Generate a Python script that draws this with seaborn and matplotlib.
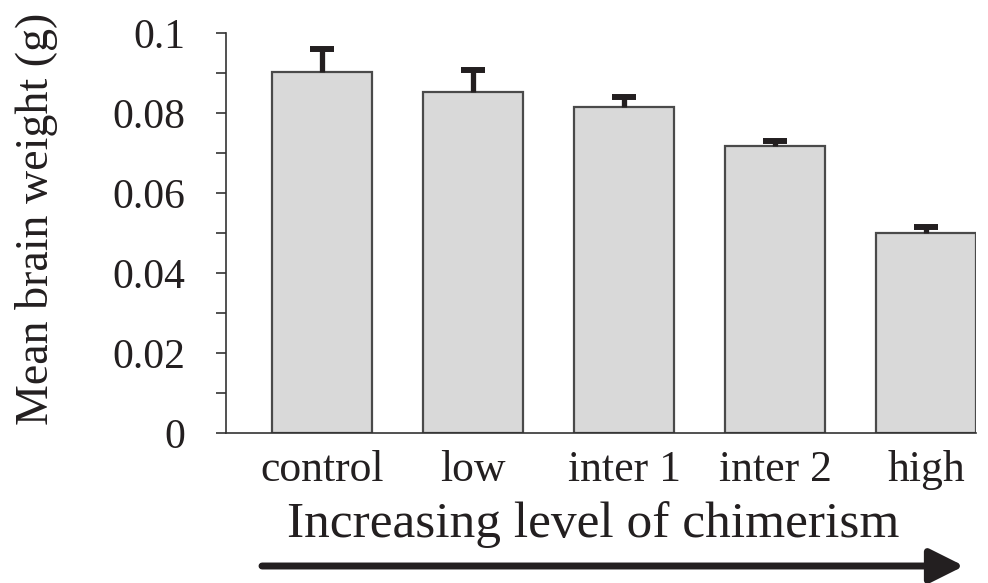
import matplotlib
matplotlib.use("Agg")
import matplotlib.pyplot as plt
import seaborn as sns
import pandas as pd
import numpy as np

categories = ["control", "low", "inter 1", "inter 2", "high"]
means = [0.0903, 0.0852, 0.0816, 0.0718, 0.0501]
errors = [0.0057, 0.0055, 0.0023, 0.0013, 0.0013]
yticks = [0, 0.02, 0.04, 0.06, 0.08, 0.1]
yticklabels = ["0", "0.02", "0.04", "0.06", "0.08", "0.1"]

sns.set_style("white")
plt.rcParams["font.family"] = ["Liberation Serif", "DejaVu Serif"]

ink = "#231f20"
fig = plt.figure(figsize=(9.88, 5.83), dpi=100)
W, H = 988, 583
ax = fig.add_axes([226 / W, (H - 433) / H, (976 - 226) / W, (433 - 33) / H])

df = pd.DataFrame({"cat": categories, "mean": means})
sns.barplot(data=df, x="cat", y="mean", ax=ax, color="#d9d9d9", saturation=1,
            edgecolor="#4a4a4a", linewidth=1.6, width=0.66, errorbar=None)
xs = np.arange(len(categories))
eb = ax.errorbar(xs, means, yerr=[np.zeros(len(errors)), errors], fmt="none",
                 ecolor=ink, elinewidth=3.8, capsize=8.6, capthick=4.3, zorder=3)
# only the upper cap is drawn in the reference
eb[1][0].set_visible(False)

ax.set_xlim(-0.636, 4.33)
ax.set_ylim(0, 0.1)
ax.set_yticks(yticks)
ax.set_yticklabels(yticklabels)
ax.set_yticks(np.arange(0.01, 0.1, 0.02), minor=True)
ax.tick_params(axis="y", which="both", direction="out", length=7, width=1.2,
               color="#333333", left=True, pad=22, labelsize=30, labelcolor=ink)
ax.tick_params(axis="x", length=0, pad=12, labelsize=31.5, labelcolor=ink)
ax.set_xlabel("")
ax.set_ylabel("")
for s in ["top", "right"]:
    ax.spines[s].set_visible(False)
for s in ["left", "bottom"]:
    ax.spines[s].set_color("#333333")
    ax.spines[s].set_linewidth(1.2)

fig.text(37 / W, (H - 219) / H, "Mean brain weight (g)", rotation=90,
         ha="center", va="center", fontsize=33, color=ink)
fig.text(593 / W, (H - 525) / H, "Increasing level of chimerism",
         ha="center", va="center", fontsize=37, color=ink)

ax.annotate("", xy=(964, H - 566), xytext=(262, H - 566),
            xycoords="figure pixels", textcoords="figure pixels",
            arrowprops=dict(arrowstyle="-|>", lw=5, color=ink,
                            mutation_scale=52, shrinkA=0, shrinkB=0))

fig.savefig("out.png", dpi=100)
